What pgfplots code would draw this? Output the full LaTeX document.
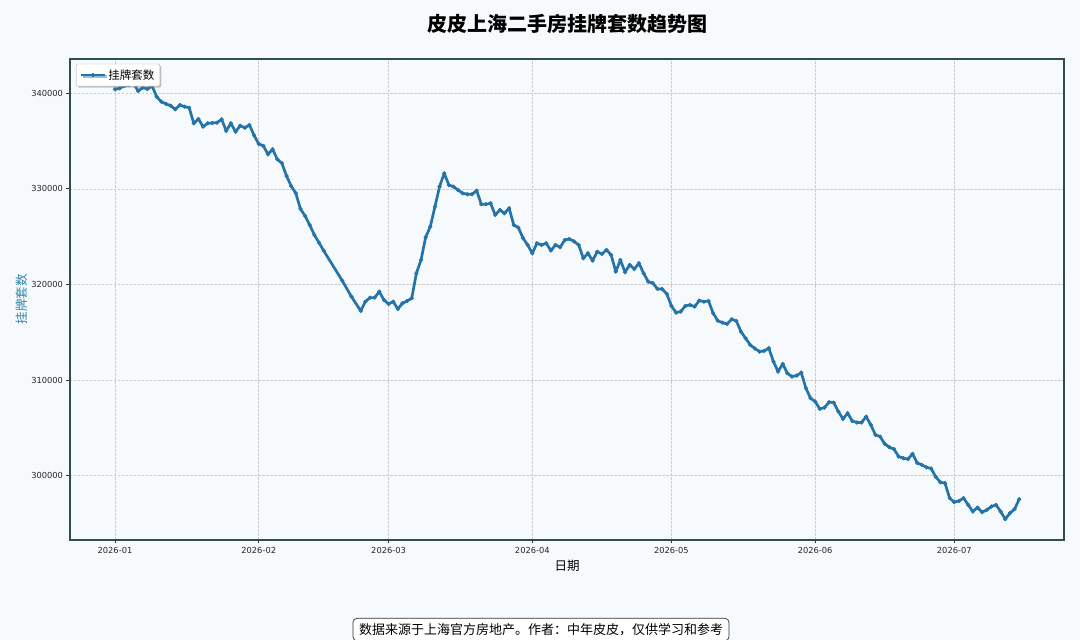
\documentclass[border=0pt]{standalone}
\usepackage{fontspec}
\setmainfont{DejaVu Sans}
\newfontfamily\cjk{Noto Sans CJK SC}
\usepackage{pgfplots}
\usepackage{pgfplotstable}
\pgfplotsset{compat=1.18}
\usetikzlibrary{shadows}
\definecolor{bgc}{RGB}{247,250,252}
\definecolor{linec}{RGB}{37,116,169}
\definecolor{ylabc}{RGB}{46,134,171}
\definecolor{framec}{RGB}{47,79,79}
\pgfplotstableread{
d v
0 340420
1 340520
2 340760
3 340870
4 341050
5 340240
6 340590
7 340450
8 340760
9 339640
10 339120
11 338900
12 338700
13 338330
14 338780
15 338600
16 338490
17 336860
18 337310
19 336510
20 336860
21 336900
22 336920
23 337280
24 336060
25 336860
26 335980
27 336610
28 336400
29 336680
30 335600
31 334700
32 334500
33 333620
34 334140
35 333100
36 332680
37 331350
38 330300
39 329540
40 327900
41 327170
42 326220
43 325180
44 324370
45 323540
49 320400
51 318720
53 317230
54 318200
55 318620
56 318620
57 319250
58 318380
59 317960
60 318200
61 317440
62 318030
63 318270
64 318560
65 321170
66 322560
67 324940
68 326050
69 328140
70 330230
71 331630
72 330410
73 330230
74 329880
75 329540
76 329440
77 329440
78 329810
79 328390
80 328390
81 328490
82 327270
83 327790
84 327450
85 327970
86 326220
87 325940
88 324830
89 324130
90 323260
91 324310
92 324130
93 324310
94 323540
95 324130
96 323890
97 324650
98 324760
99 324500
100 324130
101 322740
102 323260
103 322490
104 323430
105 323190
106 323610
107 323090
108 321340
109 322560
110 321280
111 322040
112 321620
113 322220
114 321170
115 320290
116 320130
117 319530
118 319530
119 319010
120 317750
121 317050
122 317160
123 317750
124 317860
125 317680
126 318310
127 318200
128 318270
129 316990
130 316210
131 316000
132 315870
133 316360
134 316180
135 315060
136 314370
137 313670
138 313300
139 312970
140 313050
141 313330
142 311930
143 310880
144 311680
145 310710
146 310360
147 310460
148 310780
149 309140
150 308100
151 307740
152 306980
153 307110
154 307680
155 307640
156 306700
157 305930
158 306530
159 305720
160 305550
161 305550
162 306170
163 305300
164 304260
165 304080
166 303320
167 302970
168 302760
169 301990
170 301820
171 301720
172 302270
173 301330
174 301120
175 300860
176 300740
177 299870
178 299300
179 299200
180 297640
181 297220
182 297350
183 297640
184 296940
185 296240
186 296650
187 296170
188 296410
189 296760
190 296940
191 296240
192 295440
193 296070
194 296490
195 297530
}\listings
\begin{document}
\begin{tikzpicture}
\useasboundingbox[fill=bgc] (0pt,0pt) rectangle (1080pt,640pt);
\begin{axis}[
  at={(70pt,100pt)}, anchor=south west,
  width=994pt, height=481pt, scale only axis,
  xmin=-9.70, xmax=204.66,
  ymin=293260, ymax=343590,
  axis background/.style={fill=bgc},
  axis line style={draw=framec, line width=1.8pt},
  xtick={0,31,59,90,120,151,181},
  xticklabels={2026-01,2026-02,2026-03,2026-04,2026-05,2026-06,2026-07},
  ytick={300000,310000,320000,330000,340000},
  scaled y ticks=false,
  /pgf/number format/assume math mode=true,
  yticklabel={\pgfmathprintnumber[fixed,precision=0,set thousands separator={}]{\tick}},
  tick label style={font=\fontsize{8.3}{10}\selectfont, text=black!85},
  tick align=outside, major tick length=3.5pt,
  tick style={draw=black!80, line width=0.8pt},
  xtick pos=bottom, ytick pos=left,
  grid=major,
  major grid style={draw=black!20, dash pattern=on 2.5pt off 1.5pt, line width=0.55pt},
  xlabel={\cjk 日期},
  xlabel style={at={(axis description cs:0.5,-0.054)}, anchor=center, font=\cjk\fontsize{12.5}{14}\selectfont},
  ylabel={\cjk 挂牌套数},
  ylabel style={at={(axis description cs:-0.0483,0.5)}, anchor=center, font=\cjk\fontsize{12.5}{14}\selectfont, text=ylabc},
  legend style={at={(axis description cs:0.006,0.99)}, anchor=north west,
    draw=black!30, fill=white, rounded corners=2pt, drop shadow={opacity=0.45, shadow xshift=1.5pt, shadow yshift=-1.5pt},
    font=\cjk\fontsize{11.5}{13}\selectfont, inner xsep=3.5pt, inner ysep=3.5pt},
  legend image code/.code={\draw[mark repeat=2,mark phase=2,#1] plot coordinates {(0pt,0pt)(12pt,0pt)(24pt,0pt)};},
  legend cell align=left,
]
\addplot[color=linec, line width=2.7pt, line join=round, mark=*, mark size=1.9pt, mark options={fill=linec, draw=linec, line width=0.5pt}] table[x=d,y=v] {\listings};
\addlegendentry{挂牌套数}
\end{axis}
\node[font=\cjk\bfseries\fontsize{20}{24}\selectfont, anchor=center] at (567pt,616pt) {皮皮上海二手房挂牌套数趋势图};
\node[font=\cjk\fontsize{13}{15}\selectfont, draw=black!80, fill=white, rounded corners=4pt, line width=0.7pt, inner xsep=6pt, inner ysep=5pt, anchor=north] at (541pt,22pt) {数据来源于上海官方房地产。作者：中年皮皮，仅供学习和参考};
\end{tikzpicture}
\end{document}
